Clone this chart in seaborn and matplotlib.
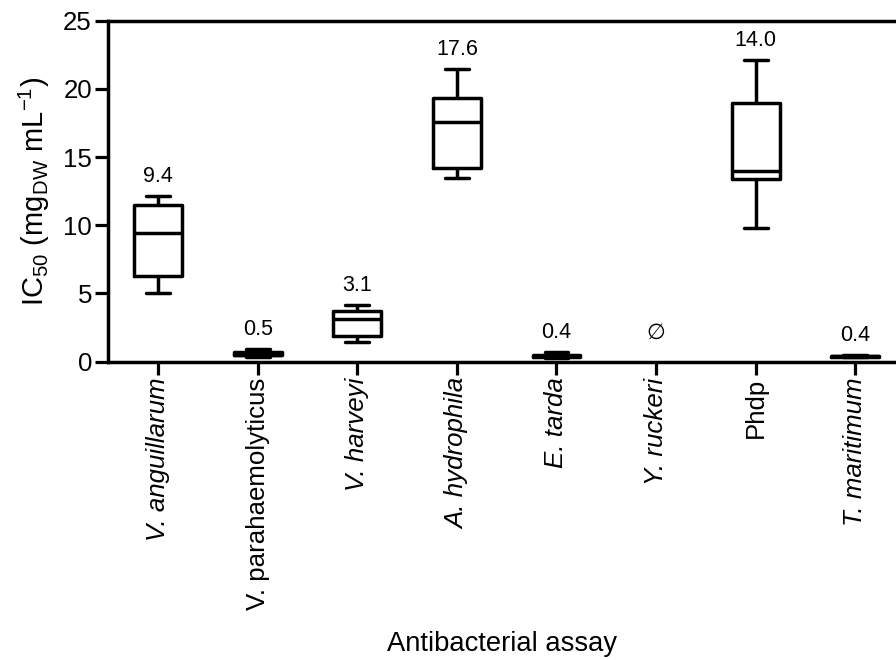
import numpy as np
import pandas as pd
import matplotlib
matplotlib.use("Agg")
import matplotlib.pyplot as plt
import seaborn as sns

# ---- data (five-number summaries: min, Q1, median, Q3, max)
categories = ["V. anguillarum", "V. parahaemolyticus", "V. harveyi", "A. hydrophila",
              "E. tarda", "Y. ruckeri", "Phdp", "T. maritimum"]
italic_flags = [True, False, True, True, True, True, False, True]

v_anguillarum = [5.0, 6.3, 9.4, 11.5, 12.15]
v_parahaemolyticus = [0.37, 0.48, 0.5, 0.7, 0.9]
v_harveyi = [1.42, 1.85, 3.1, 3.74, 4.15]
a_hydrophila = [13.45, 14.17, 17.6, 19.3, 21.45]
e_tarda = [0.3, 0.36, 0.4, 0.52, 0.7]
y_ruckeri = []  # no activity (∅)
phdp = [9.8, 13.37, 14.0, 18.97, 22.12]
t_maritimum = [0.33, 0.37, 0.4, 0.43, 0.48]

labels = ["9.4", "0.5", "3.1", "17.6", "0.4", "\u2205", "14.0", "0.4"]

series = [v_anguillarum, v_parahaemolyticus, v_harveyi, a_hydrophila,
          e_tarda, y_ruckeri, phdp, t_maritimum]

rows = []
for cat, vals in zip(categories, series):
    for v in vals:
        rows.append({"assay": cat, "ic50": v})
df = pd.DataFrame(rows)

# ---- style
sns.set_theme(style="ticks")
plt.rcParams["font.family"] = ["Liberation Sans", "DejaVu Sans"]
plt.rcParams["mathtext.fontset"] = "custom"
plt.rcParams["mathtext.rm"] = "Liberation Sans"
plt.rcParams["mathtext.it"] = "Liberation Sans:italic"
plt.rcParams["text.color"] = "black"
plt.rcParams["axes.labelcolor"] = "black"
plt.rcParams["xtick.color"] = "black"
plt.rcParams["ytick.color"] = "black"

fig = plt.figure(figsize=(8.96, 6.6), dpi=100)
ax = fig.add_axes([0.1205, 0.452, 1 - 0.1205, 0.9686 - 0.452])

sns.boxplot(data=df, x="assay", y="ic50", order=categories, whis=(0, 100),
            width=0.48, fill=False, color="black", linecolor="black",
            linewidth=2.5, showfliers=False, ax=ax)

ax.set_xlim(-0.505, 7.41)
ax.set_ylim(0, 25)
ax.set_yticks([0, 5, 10, 15, 20, 25])

for s in ["left", "bottom", "top"]:
    ax.spines[s].set_linewidth(2.5)
    ax.spines[s].set_color("black")
ax.spines["right"].set_visible(False)

ax.tick_params(axis="both", which="major", direction="out", length=9.5,
               width=2.3, color="black", labelcolor="black", labelsize=18.6, pad=2)
ax.set_xticks(range(len(categories)))
ax.set_xticklabels(categories, rotation=90)
for tl, it in zip(ax.get_xticklabels(), italic_flags):
    tl.set_fontstyle("italic" if it else "normal")

ax.set_xlabel("Antibacterial assay", fontsize=19.7, labelpad=15, color="black")
ax.set_ylabel(r"IC$_{\mathregular{50}}$ (mg$_{\mathregular{DW}}$ mL$^{\mathregular{-1}}$)",
              fontsize=21, labelpad=8, color="black")

# value labels above each box
for i, (vals, lab) in enumerate(zip(series, labels)):
    top = max(vals) if vals else 0.6
    ax.text(i, top + 1.45, lab, ha="center", va="center", fontsize=15.5,
            family=["Liberation Sans", "DejaVu Sans"], color="black")

fig.savefig("out.png", dpi=100)
